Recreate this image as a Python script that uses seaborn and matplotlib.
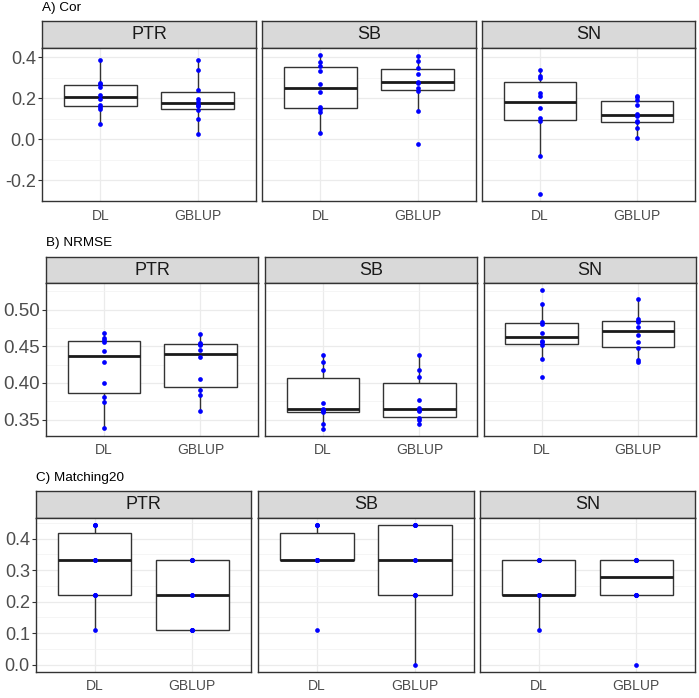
import numpy as np
import pandas as pd
import matplotlib
matplotlib.use("Agg")
import matplotlib.pyplot as plt
import seaborn as sns
from matplotlib.ticker import FixedLocator, FormatStrFormatter

# ---------------- data ----------------
traits = ["PTR", "SB", "SN"]
methods = ["DL", "GBLUP"]

cor_PTR_DL = [0.077, 0.150, 0.158, 0.170, 0.195, 0.215, 0.255, 0.270, 0.275, 0.385]
cor_PTR_GBLUP = [0.028, 0.100, 0.142, 0.161, 0.169, 0.184, 0.197, 0.243, 0.337, 0.385]
cor_SB_DL = [0.031, 0.135, 0.150, 0.160, 0.229, 0.269, 0.332, 0.358, 0.377, 0.413]
cor_SB_GBLUP = [-0.021, 0.140, 0.237, 0.250, 0.276, 0.281, 0.321, 0.350, 0.382, 0.406]
cor_SN_DL = [-0.266, -0.081, 0.090, 0.106, 0.155, 0.213, 0.226, 0.301, 0.310, 0.339]
cor_SN_GBLUP = [0.006, 0.058, 0.084, 0.090, 0.113, 0.124, 0.170, 0.190, 0.205, 0.214]

nrmse_PTR_DL = [0.338, 0.374, 0.381, 0.400, 0.429, 0.443, 0.456, 0.458, 0.461, 0.468]
nrmse_PTR_GBLUP = [0.361, 0.383, 0.390, 0.405, 0.435, 0.445, 0.452, 0.453, 0.455, 0.467]
nrmse_SB_DL = [0.3374, 0.3433, 0.3600, 0.3620, 0.3630, 0.3645, 0.3722, 0.4182, 0.4291, 0.4381]
nrmse_SB_GBLUP = [0.3437, 0.3496, 0.3514, 0.3622, 0.3635, 0.3655, 0.3762, 0.4079, 0.4182, 0.4381]
nrmse_SN_DL = [0.4079, 0.4322, 0.4517, 0.4553, 0.4575, 0.4679, 0.4806, 0.4824, 0.5081, 0.5271]
nrmse_SN_GBLUP = [0.428, 0.431, 0.4476, 0.4553, 0.4657, 0.4760, 0.4830, 0.4850, 0.4864, 0.5149]

match_PTR_DL = [0.1111, 0.2222, 0.2222, 0.2222, 0.3333, 0.3333, 0.3333, 0.4444, 0.4444, 0.4444]
match_PTR_GBLUP = [0.1111, 0.1111, 0.1111, 0.1111, 0.2222, 0.2222, 0.3333, 0.3333, 0.3333, 0.3333]
match_SB_DL = [0.1111, 0.3333, 0.3333, 0.3333, 0.3333, 0.3333, 0.3333, 0.4444, 0.4444, 0.4444]
match_SB_GBLUP = [0.0, 0.2222, 0.2222, 0.2222, 0.3333, 0.3333, 0.4444, 0.4444, 0.4444, 0.4444]
match_SN_DL = [0.1111, 0.2222, 0.2222, 0.2222, 0.2222, 0.2222, 0.3333, 0.3333, 0.3333, 0.3333]
match_SN_GBLUP = [0.0, 0.2222, 0.2222, 0.2222, 0.2222, 0.3333, 0.3333, 0.3333, 0.3333, 0.3333]

row_titles = ["A) Cor", "B) NRMSE", "C) Matching20"]
cor_ticks = [-0.2, 0.0, 0.2, 0.4]
nrmse_ticks = [0.35, 0.40, 0.45, 0.50]
match_ticks = [0.0, 0.1, 0.2, 0.3, 0.4]

series = {
    "Cor": {"PTR": (cor_PTR_DL, cor_PTR_GBLUP), "SB": (cor_SB_DL, cor_SB_GBLUP),
            "SN": (cor_SN_DL, cor_SN_GBLUP)},
    "NRMSE": {"PTR": (nrmse_PTR_DL, nrmse_PTR_GBLUP), "SB": (nrmse_SB_DL, nrmse_SB_GBLUP),
              "SN": (nrmse_SN_DL, nrmse_SN_GBLUP)},
    "Matching20": {"PTR": (match_PTR_DL, match_PTR_GBLUP), "SB": (match_SB_DL, match_SB_GBLUP),
                   "SN": (match_SN_DL, match_SN_GBLUP)},
}
metrics = ["Cor", "NRMSE", "Matching20"]
ticks = {"Cor": (cor_ticks, "%.1f"), "NRMSE": (nrmse_ticks, "%.2f"), "Matching20": (match_ticks, "%.1f")}

records = []
for m in metrics:
    for t in traits:
        for meth, vals in zip(methods, series[m][t]):
            for v in vals:
                records.append((m, t, meth, v))
df = pd.DataFrame(records, columns=["metric", "trait", "method", "value"])

# ---------------- layout (pixels) ----------------
W, H = 699, 698
sns.set_theme(style="white")
plt.rcParams["font.family"] = ["Liberation Sans", "DejaVu Sans"]
plt.rcParams["axes.unicode_minus"] = False

fig = plt.figure(figsize=(W / 100, H / 100), dpi=100)

def rect(x0, y0, x1, y1):
    return [x0 / W, 1 - y1 / H, (x1 - x0) / W, (y1 - y0) / H]

layout = {
    "Cor": dict(title=(42, 8), strip=(21, 47.7), panel=(47.7, 201),
                xs=[(42, 256), (262, 476), (482, 695)], yfs=13),
    "NRMSE": dict(title=(46, 243), strip=(257.3, 282.7), panel=(282.7, 435.7),
                  xs=[(46, 258.3), (265, 477.3), (483.7, 696)], yfs=13.5),
    "Matching20": dict(title=(36, 477.7), strip=(490.7, 517.7), panel=(517.7, 671.7),
                       xs=[(36, 250.7), (258.3, 474), (480, 695)], yfs=13),
}
whis_by_panel = {("Cor", "PTR"): 2.0}

dark = "#333333"
for m, title in zip(metrics, row_titles):
    L = layout[m]
    sub = df[df.metric == m]
    lo, hi = sub.value.min(), sub.value.max()
    pad = 0.05 * (hi - lo)
    fig.text(L["title"][0] / W, 1 - L["title"][1] / H, title, ha="left", va="center",
             fontsize=9.7, color="black")
    for i, t in enumerate(traits):
        x0, x1 = L["xs"][i]
        # strip
        sax = fig.add_axes(rect(x0, L["strip"][0], x1, L["strip"][1]))
        sax.set_facecolor("#D9D9D9")
        sax.set_xticks([]); sax.set_yticks([])
        for s in sax.spines.values():
            s.set_color(dark); s.set_linewidth(1.0)
        sax.text(0.5, 0.48, t, ha="center", va="center", fontsize=13,
                 color="#1A1A1A", transform=sax.transAxes)
        # panel
        ax = fig.add_axes(rect(x0, L["panel"][0], x1, L["panel"][1]))
        d = sub[sub.trait == t]
        ax.set_facecolor("white")
        ax.set_axisbelow(True)
        sns.boxplot(data=d, x="method", y="value", order=methods, ax=ax,
                    color="white", linecolor=dark, width=0.75, showfliers=False,
                    showcaps=False, linewidth=1.0, whis=whis_by_panel.get((m, t), 1.5),
                    medianprops=dict(linewidth=2.0, color="#1A1A1A"))
        sns.stripplot(data=d, x="method", y="value", order=methods, ax=ax,
                      jitter=False, color="#0000FF", size=3.4, linewidth=0, zorder=5)
        ax.set_xlim(-0.6, 1.6)
        ax.set_ylim(lo - pad, hi + pad)
        tk, fmt = ticks[m]
        ax.yaxis.set_major_locator(FixedLocator(tk))
        step = tk[1] - tk[0]
        minors = [tk[0] - step / 2] + [v + step / 2 for v in tk]
        ax.yaxis.set_minor_locator(FixedLocator(minors))
        ax.yaxis.set_major_formatter(FormatStrFormatter(fmt))
        ax.grid(True, which="major", axis="both", color="#EBEBEB", linewidth=0.9)
        ax.grid(True, which="minor", axis="y", color="#F2F2F2", linewidth=0.5)
        ax.set_xlabel(""); ax.set_ylabel("")
        for s in ax.spines.values():
            s.set_color(dark); s.set_linewidth(1.0)
        ax.tick_params(axis="x", which="major", length=3, width=0.8, color=dark,
                       labelsize=10, labelcolor="#4D4D4D", pad=2.5)
        ax.tick_params(axis="y", which="minor", length=0)
        if i == 0:
            ax.tick_params(axis="y", which="major", length=3, width=0.8, color=dark,
                           labelsize=L["yfs"], labelcolor="#4D4D4D", pad=1.5, left=True)
        else:
            ax.tick_params(axis="y", which="major", length=0, labelleft=False)

fig.savefig("out.png", dpi=100, facecolor="white")
